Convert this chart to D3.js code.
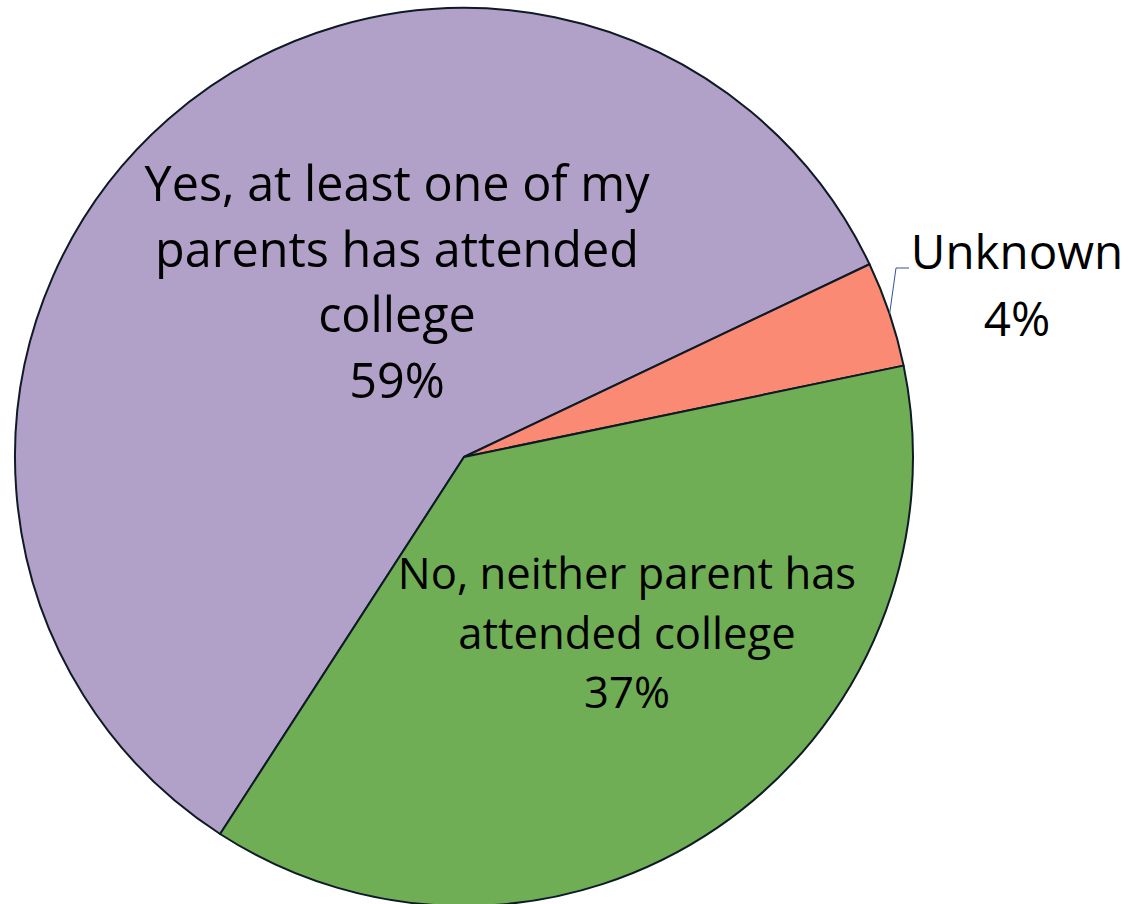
<!DOCTYPE html>
<html>
<head>
<meta charset="utf-8">
<script src="https://cdn.jsdelivr.net/npm/d3@7"></script>
<style>
  html, body { margin: 0; padding: 0; background: #fff; }
  svg { display: block; font-family: "Open Sans", "Noto Sans", sans-serif; }
</style>
</head>
<body>
<svg id="pie_svg" width="1130" height="904"></svg>
<script>
// Slice data (order as drawn clockwise from the "Yes" slice)
const categories = ["Yes", "Unknown", "No"];
const values = [58.8, 3.8, 37.4];
const labelLines = [
  ["Yes, at least one of my", "parents has attended", "college"],
  ["Unknown"],
  ["No, neither parent has", "attended college"]
];
const colors = ["#b1a0c7", "#fa8a73", "#6fae55"];

const data = categories.map((c, i) => ({ name: c, value: values[i], lines: labelLines[i] }));

// Geometry of the pie
const cx = 464, cy = 457, radius = 449;
const deg = Math.PI / 180;
const startDeg = -147.1;

// Label placement (first baseline, font size, line gap)
const labelLayout = {
  Yes: { x: 397, y: 201, size: 48.5, gap: 65.7 },
  Unknown: { x: 1017, y: 269, size: 47.5, gap: 67 },
  No: { x: 627, y: 589, size: 43.6, gap: 59.5 }
};

const svg = d3.select("#pie_svg");
const g = svg.append("g").attr("transform", "translate(" + cx + "," + cy + ")");

const pie = d3.pie()
  .sort(null)
  .startAngle(startDeg * deg)
  .endAngle((startDeg + 360) * deg)
  .value((d) => d.value);

const path = d3.arc().innerRadius(0).outerRadius(radius);
const arcs = pie(data);

g.selectAll(".slice")
  .data(arcs)
  .enter()
  .append("path")
  .attr("class", "slice")
  .attr("d", path)
  .attr("fill", (d, i) => colors[i])
  .attr("stroke", "#0e1a26")
  .attr("stroke-width", 2)
  .attr("stroke-linejoin", "round");

// Leader line for the small slice
const small = arcs[1];
const mid = (small.startAngle + small.endAngle) / 2;
const edge = [Math.sin(mid) * radius + cx, -Math.cos(mid) * radius + cy];
svg.append("polyline")
  .attr("points", [edge, [896, 268], [909, 268]].map((p) => p.join(",")).join(" "))
  .attr("fill", "none")
  .attr("stroke", "#2f5597")
  .attr("stroke-width", 1);

// Labels: category text + percentage
const total = d3.sum(values);
arcs.forEach((d) => {
  const lay = labelLayout[d.data.name];
  const lines = d.data.lines.concat([Math.round(d.data.value / total * 100) + "%"]);
  const t = svg.append("text")
    .attr("text-anchor", "middle")
    .attr("font-size", lay.size)
    .attr("fill", "#000");
  lines.forEach((s, i) => {
    t.append("tspan").attr("x", lay.x).attr("y", lay.y + i * lay.gap).text(s);
  });
});
</script>
</body>
</html>
